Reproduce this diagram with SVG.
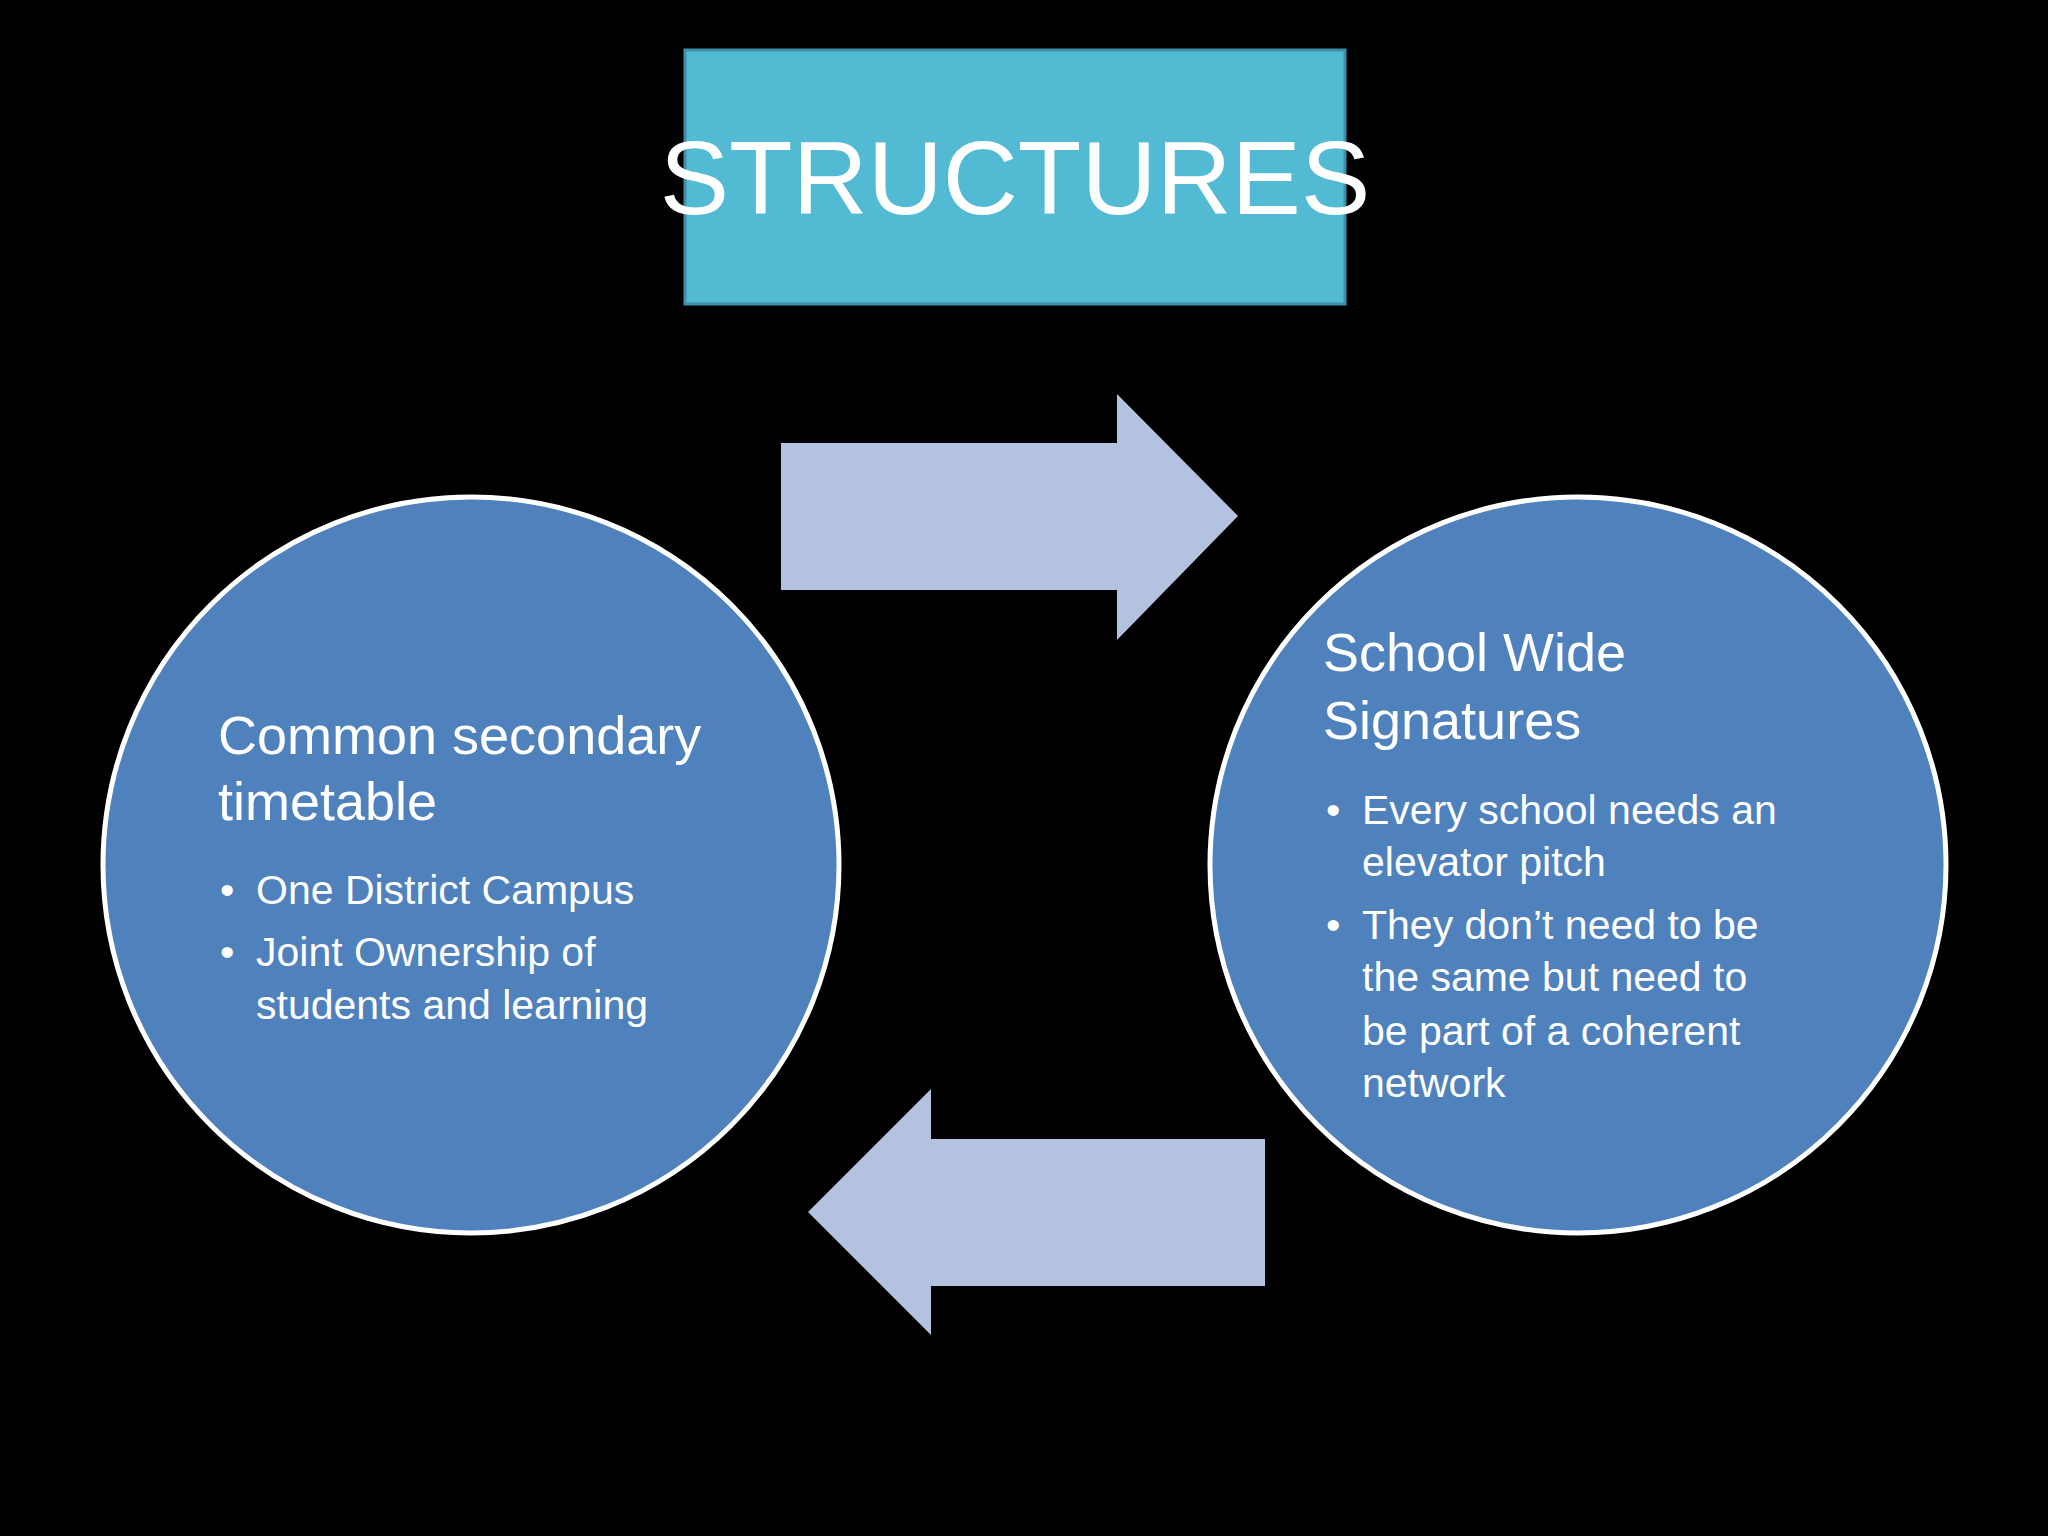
<svg xmlns="http://www.w3.org/2000/svg" width="2048" height="1536" viewBox="0 0 2048 1536">
<style>
.t{font-family:"Liberation Sans",Arial,sans-serif;fill:#fff}
.h{font-size:54px}
.b{font-size:41px}
.c{fill:#4f81bd;stroke:#fff;stroke-width:5}
.a{fill:#b3c2df}
</style>
<rect width="2048" height="1536" fill="#000"/>
<g id="title">
<rect x="685" y="50" width="660" height="254" fill="#53bad3" stroke="#3f8fa8" stroke-width="3"/>
<text class="t" x="1015" y="214" font-size="104" text-anchor="middle">STRUCTURES</text>
</g>
<g id="connectors">
<polygon class="a" points="781,443 1117,443 1117,394 1238,516 1117,640 1117,590 781,590"/>
<polygon class="a" points="1265,1139 931,1139 931,1089 808,1212 931,1335 931,1286 1265,1286"/>
</g>
<g id="left">
<circle class="c" cx="471" cy="865" r="368"/>
<text class="t h" x="218" y="754">Common secondary</text>
<text class="t h" x="218" y="820">timetable</text>
<text class="t b" x="220" y="904">•</text><text class="t b" x="256" y="904">One District Campus</text>
<text class="t b" x="220" y="966">•</text><text class="t b" x="256" y="966">Joint Ownership of</text>
<text class="t b" x="256" y="1019">students and learning</text>
</g>
<g id="right">
<circle class="c" cx="1578" cy="865" r="368"/>
<text class="t h" x="1323" y="671">School Wide</text>
<text class="t h" x="1323" y="739">Signatures</text>
<text class="t b" x="1326" y="824">•</text><text class="t b" x="1362" y="824">Every school needs an</text>
<text class="t b" x="1362" y="876">elevator pitch</text>
<text class="t b" x="1326" y="939">•</text><text class="t b" x="1362" y="939">They don’t need to be</text>
<text class="t b" x="1362" y="991">the same but need to</text>
<text class="t b" x="1362" y="1045">be part of a coherent</text>
<text class="t b" x="1362" y="1097">network</text>
</g>
</svg>
